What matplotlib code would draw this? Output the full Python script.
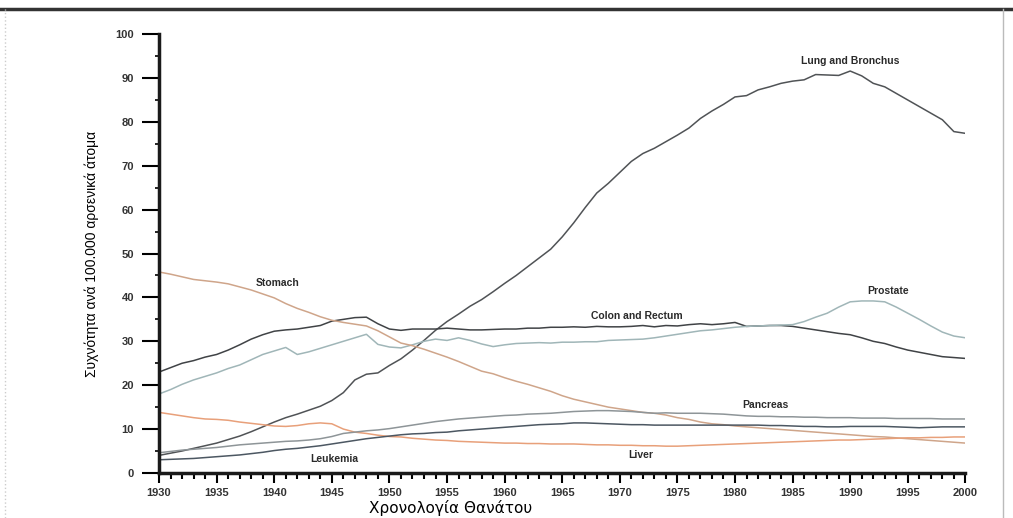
import matplotlib
matplotlib.use("Agg")
import matplotlib.pyplot as plt
from matplotlib.ticker import MultipleLocator
from matplotlib.lines import Line2D

years = list(range(1930, 2001))

lung = [4.0, 4.5, 5.0, 5.6, 6.2, 6.8, 7.6, 8.4, 9.4, 10.5,
        11.6, 12.6, 13.4, 14.3, 15.2, 16.5, 18.3, 21.2, 22.5, 22.8,
        24.5, 26.0, 28.0, 30.2, 32.5, 34.5, 36.2, 38.0, 39.5, 41.3,
        43.2, 45.0, 47.0, 49.0, 51.0, 53.8, 57.0, 60.5, 63.8, 66.0,
        68.5, 71.0, 72.8, 74.0, 75.5, 77.0, 78.6, 80.8, 82.5, 84.0,
        85.7, 86.0, 87.3, 88.0, 88.8, 89.3, 89.6, 90.8, 90.7, 90.6,
        91.6, 90.5, 88.8, 88.0, 86.5, 85.0, 83.5, 82.0, 80.5, 77.8, 77.4]

colon = [23.0, 24.0, 25.0, 25.6, 26.4, 27.0, 28.0, 29.2, 30.5, 31.5,
         32.3, 32.6, 32.8, 33.2, 33.6, 34.6, 35.0, 35.4, 35.5, 34.0,
         32.8, 32.5, 32.8, 32.8, 32.8, 33.0, 32.8, 32.6, 32.6, 32.7,
         32.8, 32.8, 33.0, 33.0, 33.2, 33.2, 33.3, 33.2, 33.4, 33.3,
         33.3, 33.4, 33.6, 33.3, 33.6, 33.5, 33.8, 34.0, 33.8, 34.0,
         34.3, 33.4, 33.5, 33.6, 33.6, 33.4, 33.0, 32.6, 32.2, 31.8,
         31.5, 30.8, 30.0, 29.5, 28.7, 28.0, 27.5, 27.0, 26.5, 26.3, 26.1]

prostate = [18.0, 19.0, 20.2, 21.2, 22.0, 22.8, 23.8, 24.6, 25.8, 27.0,
            27.8, 28.6, 27.0, 27.6, 28.4, 29.2, 30.0, 30.8, 31.6, 29.3,
            28.7, 28.5, 29.2, 30.0, 30.5, 30.2, 30.8, 30.2, 29.4, 28.8,
            29.2, 29.5, 29.6, 29.7, 29.6, 29.8, 29.8, 29.9, 29.9, 30.2,
            30.3, 30.4, 30.5, 30.8, 31.2, 31.6, 32.0, 32.4, 32.6, 32.9,
            33.2, 33.4, 33.5, 33.6, 33.7, 33.8, 34.5, 35.5, 36.4, 37.8,
            39.0, 39.2, 39.2, 39.0, 37.8, 36.4, 35.0, 33.5, 32.1, 31.2, 30.8]

stomach = [45.8, 45.3, 44.7, 44.1, 43.8, 43.5, 43.1, 42.4, 41.7, 40.8,
           39.9, 38.6, 37.5, 36.6, 35.6, 34.8, 34.3, 33.9, 33.5, 32.4,
           31.0, 29.6, 29.0, 28.2, 27.3, 26.4, 25.4, 24.3, 23.2, 22.6,
           21.7, 20.9, 20.2, 19.4, 18.6, 17.6, 16.8, 16.2, 15.6, 15.0,
           14.6, 14.2, 13.8, 13.6, 13.2, 12.6, 12.2, 11.6, 11.2, 11.0,
           10.7, 10.5, 10.3, 10.1, 9.9, 9.7, 9.5, 9.3, 9.1, 8.9,
           8.7, 8.5, 8.3, 8.2, 8.0, 7.8, 7.6, 7.4, 7.2, 7.0, 6.8]

liver = [13.8, 13.4, 13.0, 12.6, 12.3, 12.2, 12.0, 11.6, 11.3, 11.0,
         10.7, 10.6, 10.8, 11.2, 11.4, 11.2, 10.0, 9.3, 9.0, 8.6,
         8.3, 8.2, 7.9, 7.7, 7.5, 7.4, 7.2, 7.1, 7.0, 6.9,
         6.8, 6.8, 6.7, 6.7, 6.6, 6.6, 6.6, 6.5, 6.4, 6.4,
         6.3, 6.3, 6.2, 6.2, 6.1, 6.1, 6.2, 6.3, 6.4, 6.5,
         6.6, 6.7, 6.8, 6.9, 7.0, 7.1, 7.2, 7.3, 7.4, 7.5,
         7.5, 7.6, 7.7, 7.8, 7.9, 8.0, 8.0, 8.1, 8.1, 8.2, 8.2]

pancreas = [4.6, 4.9, 5.2, 5.4, 5.6, 5.8, 6.1, 6.4, 6.6, 6.8,
            7.0, 7.2, 7.3, 7.5, 7.8, 8.3, 9.0, 9.3, 9.6, 9.8,
            10.1, 10.5, 10.9, 11.3, 11.7, 12.0, 12.3, 12.5, 12.7, 12.9,
            13.1, 13.2, 13.4, 13.5, 13.6, 13.8, 14.0, 14.1, 14.2, 14.2,
            14.1, 14.0, 13.8, 13.6, 13.7, 13.6, 13.6, 13.6, 13.5, 13.4,
            13.2, 13.0, 12.9, 12.9, 12.8, 12.8, 12.7, 12.7, 12.6, 12.6,
            12.6, 12.5, 12.5, 12.5, 12.4, 12.4, 12.4, 12.4, 12.3, 12.3, 12.3]

leukemia = [3.0, 3.1, 3.2, 3.3, 3.5, 3.7, 3.9, 4.1, 4.4, 4.7,
            5.1, 5.4, 5.6, 5.9, 6.2, 6.6, 7.0, 7.4, 7.8, 8.1,
            8.4, 8.7, 8.9, 9.0, 9.2, 9.3, 9.6, 9.8, 10.0, 10.2,
            10.4, 10.6, 10.8, 11.0, 11.1, 11.2, 11.4, 11.4, 11.3, 11.2,
            11.1, 11.0, 11.0, 10.9, 10.9, 10.9, 10.9, 10.9, 10.9, 10.9,
            10.9, 10.9, 10.9, 10.8, 10.8, 10.7, 10.6, 10.6, 10.5, 10.5,
            10.6, 10.6, 10.6, 10.6, 10.5, 10.4, 10.3, 10.4, 10.5, 10.5, 10.5]

# series, colour, label text and label anchor (year, value)
series = [
    (lung, "#505356", "Lung and Bronchus", 1990.0, 93.8),
    (colon, "#404346", "Colon and Rectum", 1971.5, 35.8),
    (prostate, "#a0b6b8", "Prostate", 1993.3, 41.5),
    (stomach, "#cfa58a", "Stomach", 1940.3, 43.3),
    (liver, "#e8a07a", "Liver", 1971.8, 4.1),
    (pancreas, "#8e9598", "Pancreas", 1982.6, 15.5),
    (leukemia, "#4c5762", "Leukemia", 1945.2, 3.2),
]

fig = plt.figure(figsize=(10.13, 5.18), dpi=100)
ax = fig.add_axes([0.157, 0.087, 0.796, 0.847])

for vals, col, name, lx, ly in series:
    ax.plot(years, vals, color=col, lw=1.1)
    ax.text(lx, ly, name, fontsize=7.5, fontweight="bold", color="#2a2a2a",
            ha="center", va="center", family="Liberation Sans")

ax.set_xlim(1930, 2000)
ax.set_ylim(0, 100)
ax.xaxis.set_major_locator(MultipleLocator(5))
ax.xaxis.set_minor_locator(MultipleLocator(1))
ax.yaxis.set_major_locator(MultipleLocator(10))
ax.yaxis.set_minor_locator(MultipleLocator(5))

for s in ["top", "right"]:
    ax.spines[s].set_visible(False)
ax.spines["left"].set_linewidth(2.5)
ax.spines["bottom"].set_linewidth(2.5)
ax.spines["left"].set_color("#1a1a1a")
ax.spines["bottom"].set_color("#1a1a1a")

ax.tick_params(axis="y", which="major", direction="out", length=12, width=1.5,
               labelsize=8, pad=6)
ax.tick_params(axis="y", which="minor", direction="out", length=3, width=1.2)
ax.tick_params(axis="x", which="major", direction="out", length=7, width=1.5,
               labelsize=8, pad=4)
ax.tick_params(axis="x", which="minor", direction="out", length=4, width=1.5)
for lab in ax.get_xticklabels() + ax.get_yticklabels():
    lab.set_fontweight("bold")
    lab.set_family("Liberation Sans")
    lab.set_color("#333333")

ax.set_ylabel("Συχνότητα ανά 100.000 αρσενικά άτομα", fontsize=10,
              family="Liberation Sans", labelpad=12)
ax.set_xlabel("Χρονολογία Θανάτου", fontsize=11, family="DejaVu Sans",
              x=0.362, labelpad=1)

# scanned page frame
fig.add_artist(Line2D([0.0, 1.0], [0.983, 0.983], color="#333333", lw=2.5))
fig.add_artist(Line2D([0.99, 0.99], [0.0, 0.983], color="#bbbbbb", lw=1.0))
fig.add_artist(Line2D([0.005, 0.005], [0.0, 0.983], color="#cccccc", lw=1.0,
                      ls=":"))

fig.savefig("out.png", dpi=100)
